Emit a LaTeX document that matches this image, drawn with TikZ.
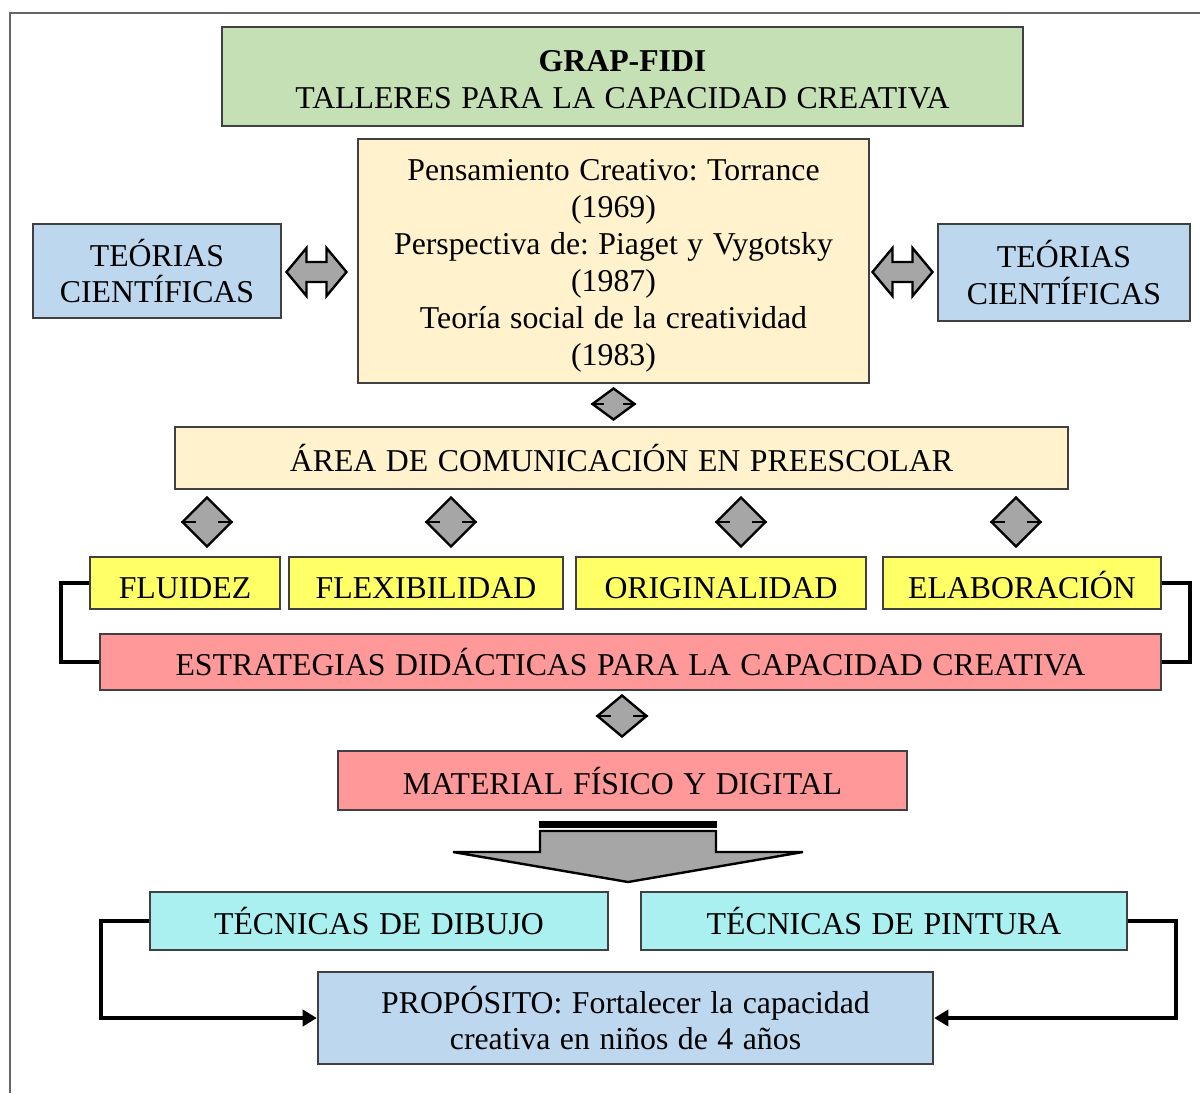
\documentclass[tikz,border=0pt]{standalone}
\usepackage{fontspec}
\setmainfont{Liberation Serif}[WordSpace=1.2]
\usetikzlibrary{arrows.meta,shapes.geometric}
\frenchspacing

\definecolor{titlegreen}{HTML}{C5E0B4}
\definecolor{cream}{HTML}{FFF2CC}
\definecolor{lblue}{HTML}{BDD7EE}
\definecolor{yell}{HTML}{FFFF66}
\definecolor{pink}{HTML}{FF9999}
\definecolor{cyanbox}{HTML}{AAF0F0}
\definecolor{arrgray}{HTML}{A6A6A6}
\definecolor{edge}{HTML}{404040}

\tikzset{
  box/.style={draw=edge, line width=1.7pt, inner sep=0pt, align=center,
    font=\fontsize{22.6}{26.2}\selectfont},
  sz/.style 2 args={minimum width=#1*0.025cm, minimum height=#2*0.025cm},
  lowtext/.style={text height=22.6pt, text depth=0.2pt},
  conn/.style={draw=black, line width=2.85pt},
  dmd/.style={diamond, draw=black, line width=1.7pt, fill=arrgray, inner sep=0pt},
  grayshape/.style={draw=black, line width=1.7pt, fill=arrgray, line join=miter},
  dblarrow/.pic={
    \draw[grayshape] (-30,0) -- (-10,-24) -- (-10,-10) -- (10,-10) -- (10,-24)
      -- (30,0) -- (10,24) -- (10,10) -- (-10,10) -- (-10,24) -- cycle;
  }
}

\begin{document}
\begin{tikzpicture}[x=0.025cm, y=-0.025cm]
\useasboundingbox (0,0) rectangle (1200,1093);

% frame
\draw[edge!80, line width=1.4pt] (10,1093) -- (10,13) -- (1200,13);

% top
\node[box, fill=titlegreen, sz={801}{99}] (title) at (622.5,76.5)
  {\vrule width 0pt height 19.6pt\textbf{GRAP-FIDI}\\TALLERES PARA LA CAPACIDAD CREATIVA};
\node[box, fill=cream, sz={511}{244}] (teoria) at (613.5,261)
  {\vrule width 0pt height 22pt Pensamiento Creativo: Torrance\\(1969)\\Perspectiva de: Piaget y Vygotsky\\(1987)\\Teoría social de la creatividad\\(1983)};
\node[box, fill=lblue, sz={248}{94}] (cienl) at (157,271) {TEÓRIAS\\CIENTÍFICAS};
\node[box, fill=lblue, sz={252}{97}] (cienr) at (1064,272.5) {TEÓRIAS\\CIENTÍFICAS};
\pic at (316.5,272) {dblarrow};
\pic at (902.5,272) {dblarrow};

% area
\node[dmd, sz={43}{32}] (d0) at (613.5,404) {};
\draw[line width=1.7pt] (d0.west) -- ++(13,0) (d0.east) -- ++(-13,0);
\node[box, fill=cream, sz={893}{62}] (area) at (621.5,458) {ÁREA DE COMUNICACIÓN EN PREESCOLAR};

% dimensions
\foreach \n/\x in {d1/207, d2/451, d3/741, d4/1016} {
  \node[dmd, sz={50}{50}] (\n) at (\x,522) {};
  \draw[line width=1.7pt] (\n.west) -- ++(15,0) (\n.east) -- ++(-15,0);
}
\node[box, lowtext, fill=yell, sz={190}{52}] (flu) at (185,583) {FLUIDEZ};
\node[box, lowtext, fill=yell, sz={274}{52}] (flex) at (426,583) {FLEXIBILIDAD};
\node[box, lowtext, fill=yell, sz={290}{52}] (orig) at (721,583) {ORIGINALIDAD};
\node[box, lowtext, fill=yell, sz={278}{52}] (elab) at (1022,583) {ELABORACIÓN};

\node[box, fill=pink, sz={1061}{56}] (estr) at (630.5,662)
  {ESTRATEGIAS DIDÁCTICAS PARA LA CAPACIDAD CREATIVA};
\draw[conn] (flu.west) -- ++(-28,0) |- (estr.west);
\draw[conn] (elab.east) -- ++(28,0) |- (estr.east);

% material
\node[dmd, sz={50}{42}] (d5) at (622,716) {};
\draw[line width=1.7pt] (d5.west) -- ++(15,0) (d5.east) -- ++(-15,0);
\node[box, fill=pink, sz={569}{59}] (mat) at (622.5,780.5) {MATERIAL FÍSICO Y DIGITAL};

% big arrow
\draw[grayshape] (540,831) -- (540,852) -- (453,852) -- (628,882) -- (803,852)
  -- (716,852) -- (716,831) -- cycle;
\draw[line width=5pt] (539,824.5) -- (717,824.5);

% techniques
\node[box, fill=cyanbox, sz={458}{58}] (dib) at (379,921) {TÉCNICAS DE DIBUJO};
\node[box, fill=cyanbox, sz={486}{58}] (pint) at (884,921) {TÉCNICAS DE PINTURA};
\node[box, fill=lblue, sz={615}{92}] (prop) at (625.5,1018)
  {PROPÓSITO: Fortalecer la capacidad\\creativa en niños de 4 años};
\draw[conn, -{Triangle[length=10pt, width=11.4pt]}] (dib.west) -- ++(-48,0) |- (prop.west);
\draw[conn, -{Triangle[length=10pt, width=11.4pt]}] (pint.east) -- ++(48,0) |- (prop.east);
\end{tikzpicture}
\end{document}
